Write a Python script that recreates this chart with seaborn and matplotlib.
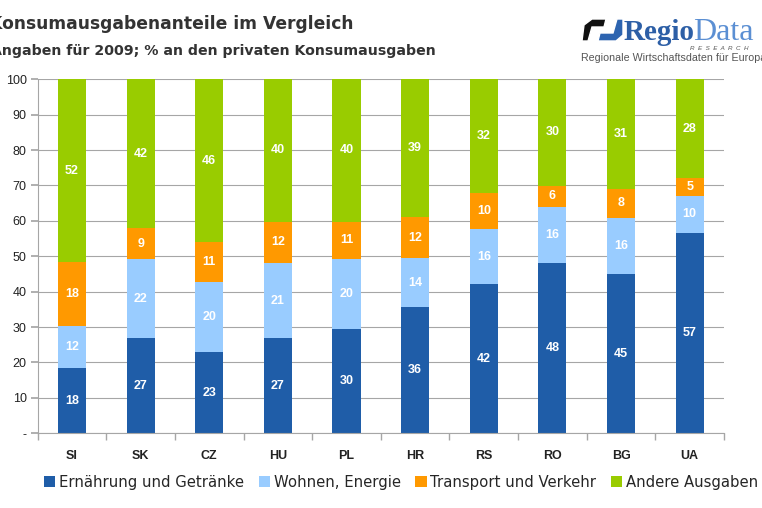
import matplotlib
matplotlib.use("Agg")
import matplotlib.pyplot as plt
import numpy as np
import pandas as pd
import seaborn as sns
from matplotlib.patches import Patch, Polygon

countries = ["SI", "SK", "CZ", "HU", "PL", "HR", "RS", "RO", "BG", "UA"]
ernaehrung = [18.4, 26.8, 23.0, 26.8, 29.6, 35.6, 42.1, 48.0, 44.9, 56.7]
wohnen = [12.0, 22.4, 19.8, 21.2, 19.6, 13.8, 15.6, 16.0, 16.0, 10.4]
transport = [17.9, 8.7, 11.2, 11.8, 10.6, 11.8, 10.3, 6.0, 8.1, 4.9]
andere = [51.7, 42.1, 46.0, 40.2, 40.2, 38.8, 32.0, 30.0, 31.0, 28.0]

series_names = ["Ernährung und Getränke", "Wohnen, Energie",
                "Transport und Verkehr", "Andere Ausgaben"]
colors = ["#1f5da8", "#99ccff", "#ff9900", "#99cc00"]

title = "Konsumausgabenanteile im Vergleich"
subtitle = "Angaben für 2009; % an den privaten Konsumausgaben"

df = pd.DataFrame({"land": countries,
                   series_names[0]: ernaehrung,
                   series_names[1]: wohnen,
                   series_names[2]: transport,
                   series_names[3]: andere})

sns.set_theme(style="white")
plt.rcParams["font.family"] = ["Liberation Sans", "DejaVu Sans"]

W, H = 762, 508
fig = plt.figure(figsize=(W / 100, H / 100), dpi=100)
ax = fig.add_axes([37.7 / W, 1 - 433.3 / H, (724 - 37.7) / W, (433.3 - 79.3) / H])

bottom = np.zeros(len(countries))
for name, col in zip(series_names, colors):
    sns.barplot(data=df, x="land", y=name, color=col, width=0.41,
                bottom=bottom, ax=ax, saturation=1, linewidth=0)
    bottom = bottom + df[name].to_numpy()

for cont, name in zip(ax.containers, series_names):
    ax.bar_label(cont, labels=[f"{v:.0f}" for v in df[name]],
                 label_type="center", color="white", fontsize=9,
                 fontweight="bold")

ax.set_xlim(-0.5, len(countries) - 0.5)
ax.set_ylim(0, 100)
ax.set_xlabel("")
ax.set_ylabel("")
ax.set_yticks(range(0, 101, 10))
ax.set_yticklabels(["-"] + [str(v) for v in range(10, 101, 10)])
ax.yaxis.grid(True, color="#a6a6a6", linewidth=0.8)
ax.set_axisbelow(True)
for s in ["top", "right"]:
    ax.spines[s].set_visible(False)
for s in ["left", "bottom"]:
    ax.spines[s].set_color("#a6a6a6")
    ax.spines[s].set_linewidth(0.8)
ax.tick_params(axis="y", left=True, length=5, color="#a6a6a6",
               labelsize=9, labelcolor="#222222", pad=3)
ax.tick_params(axis="x", bottom=False, labelsize=9, labelcolor="#222222", pad=6)
for lab in ax.get_xticklabels():
    lab.set_fontweight("bold")
ax.set_xticks(np.arange(-0.5, len(countries)), minor=True)
ax.tick_params(axis="x", which="minor", bottom=True, length=5, color="#a6a6a6")

handles = [Patch(facecolor=c, edgecolor="none") for c in colors]
fig.legend(handles, series_names, loc="center", bbox_to_anchor=(401 / W, 1 - 482 / H),
           ncol=4, frameon=False, handlelength=0.75, handleheight=0.75,
           handletextpad=0.25, columnspacing=1.0,
           prop={"family": "DejaVu Sans", "size": 10.7})

fig.text(-11 / W, 1 - 24 / H, title, fontsize=12.3, fontweight="bold",
         color="#333333", va="center", ha="left", family="DejaVu Sans")
fig.text(-9 / W, 1 - 51 / H, subtitle, fontsize=10.2, fontweight="bold",
         color="#333333", va="center", ha="left", family="DejaVu Sans")

# logo
px = fig.transFigure.inverted()
def pts(coords):
    return [px.transform((x, H - y)) for x, y in coords]
fig.patches.append(Polygon(pts([(582, 41), (588, 41), (592, 27), (604, 27), (606, 19),
                                (592, 19), (584, 25)]), closed=True,
                           facecolor="#111111", transform=fig.transFigure, figure=fig))
fig.patches.append(Polygon(pts([(598, 41), (616, 41), (623, 35), (623, 19), (617, 19),
                                (613, 33), (600, 33)]), closed=True,
                           facecolor="#2d64b0", transform=fig.transFigure, figure=fig))
fig.text(624 / W, 1 - 40 / H, "Regio", fontsize=21, fontweight="bold",
         color="#2d5fa6", family="Liberation Serif", va="baseline", ha="left")
fig.text(693 / W, 1 - 40 / H, "Data", fontsize=23,
         color="#5b8fd3", family="Liberation Serif", va="baseline", ha="left")
fig.text(690 / W, 1 - 48.5 / H, "R  E  S  E  A  R  C  H", fontsize=4.5, style="italic",
         color="#555555", va="center", ha="left")
fig.text(581 / W, 1 - 58 / H, "Regionale Wirtschaftsdaten für Europa", fontsize=7.7,
         color="#555555", va="center", ha="left")

fig.savefig("out.png", dpi=100)
